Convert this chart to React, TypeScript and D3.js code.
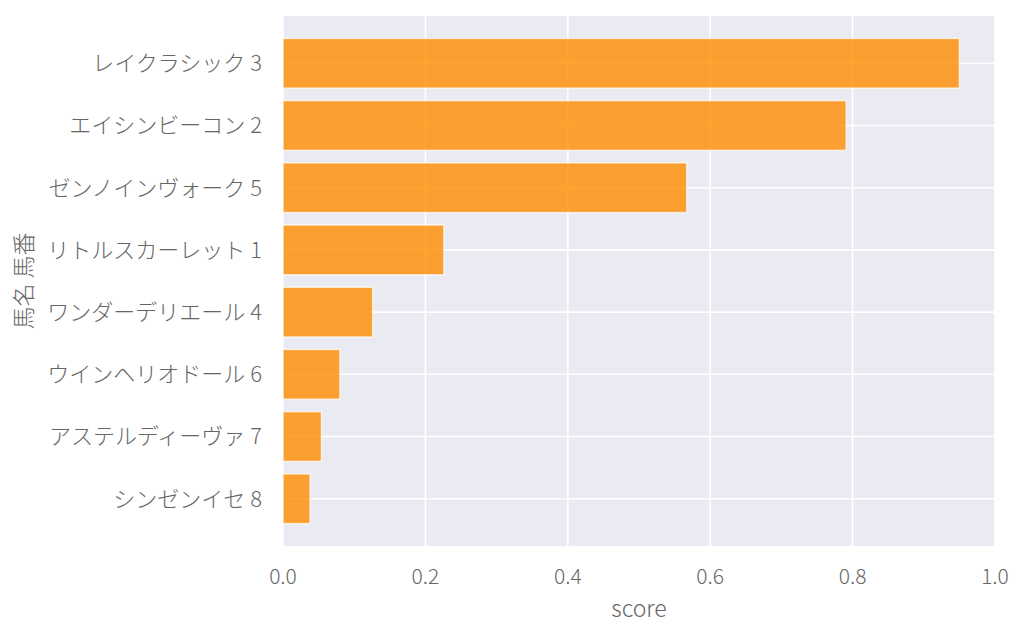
import { useEffect, useRef } from "react";
import * as d3 from "d3";

const horses = [
  "レイクラシック 3",
  "エイシンビーコン 2",
  "ゼンノインヴォーク 5",
  "リトルスカーレット 1",
  "ワンダーデリエール 4",
  "ウインヘリオドール 6",
  "アステルディーヴァ 7",
  "シンゼンイセ 8",
];
const scores = [0.95, 0.791, 0.567, 0.226, 0.126, 0.08, 0.054, 0.038];
const xTicks = [0, 0.2, 0.4, 0.6, 0.8, 1.0];

const font = "'Noto Sans CJK JP', 'Noto Sans', sans-serif";
const textColor = "#666";

function App() {
  const ref = useRef<SVGSVGElement | null>(null);

  useEffect(() => {
    const width = 1024;
    const height = 638;
    const left = 283;
    const right = 995;
    const top = 16;
    const bottom = 546;

    const svg = d3.select(ref.current);
    svg.selectAll("*").remove();

    const x = d3.scaleLinear().domain([0, 1]).range([left, right]);
    const y = d3.scaleLinear().domain([-0.76, 7.76]).range([top, bottom]);

    svg.attr("width", width).attr("height", height);

    // plot background
    svg
      .append("rect")
      .attr("x", left)
      .attr("y", top)
      .attr("width", right - left)
      .attr("height", bottom - top)
      .attr("fill", "#eaeaf2");

    // grid lines
    svg
      .selectAll("line.vgrid")
      .data(xTicks)
      .enter()
      .append("line")
      .attr("x1", (d) => x(d))
      .attr("x2", (d) => x(d))
      .attr("y1", top)
      .attr("y2", bottom)
      .attr("stroke", "#fff")
      .attr("stroke-width", 1.6);

    svg
      .selectAll("line.hgrid")
      .data(horses)
      .enter()
      .append("line")
      .attr("x1", left)
      .attr("x2", right)
      .attr("y1", (_, i) => y(i))
      .attr("y2", (_, i) => y(i))
      .attr("stroke", "#fff")
      .attr("stroke-width", 1.6);

    // bars
    const barH = y(0.4) - y(-0.4);
    svg
      .selectAll("rect.bar")
      .data(scores)
      .enter()
      .append("rect")
      .attr("x", x(0))
      .attr("y", (_, i) => y(i) - barH / 2)
      .attr("width", (d) => x(d) - x(0))
      .attr("height", barH)
      .attr("fill", "rgba(255,140,0,0.8)")
      .attr("stroke", "rgba(255,255,255,0.7)")
      .attr("stroke-width", 1.5);

    // y tick labels
    svg
      .selectAll("text.ylab")
      .data(horses)
      .enter()
      .append("text")
      .attr("x", left - 21)
      .attr("y", (_, i) => y(i))
      .attr("dy", "0.36em")
      .attr("text-anchor", "end")
      .attr("font-family", font)
      .attr("font-weight", 300)
      .attr("font-size", 22)
      .attr("fill", textColor)
      .text((d) => d);

    // x tick labels
    svg
      .selectAll("text.xlab")
      .data(xTicks)
      .enter()
      .append("text")
      .attr("x", (d) => x(d))
      .attr("y", 584)
      .attr("text-anchor", "middle")
      .attr("font-family", font)
      .attr("font-weight", 300)
      .attr("font-size", 21)
      .attr("fill", textColor)
      .text((d) => d.toFixed(1));

    // axis titles
    svg
      .append("text")
      .attr("x", (left + right) / 2)
      .attr("y", 617)
      .attr("text-anchor", "middle")
      .attr("font-family", font)
      .attr("font-weight", 300)
      .attr("font-size", 23)
      .attr("fill", textColor)
      .text("score");

    svg
      .append("text")
      .attr("transform", `translate(${32}, ${(top + bottom) / 2}) rotate(-90)`)
      .attr("text-anchor", "middle")
      .attr("font-family", font)
      .attr("font-weight", 300)
      .attr("font-size", 23)
      .attr("fill", textColor)
      .text("馬名 馬番");
  }, []);

  return (
    <svg
      ref={ref}
      style={{ position: "absolute", left: 0, top: 0, background: "#fff" }}
    />
  );
}

export default App;
